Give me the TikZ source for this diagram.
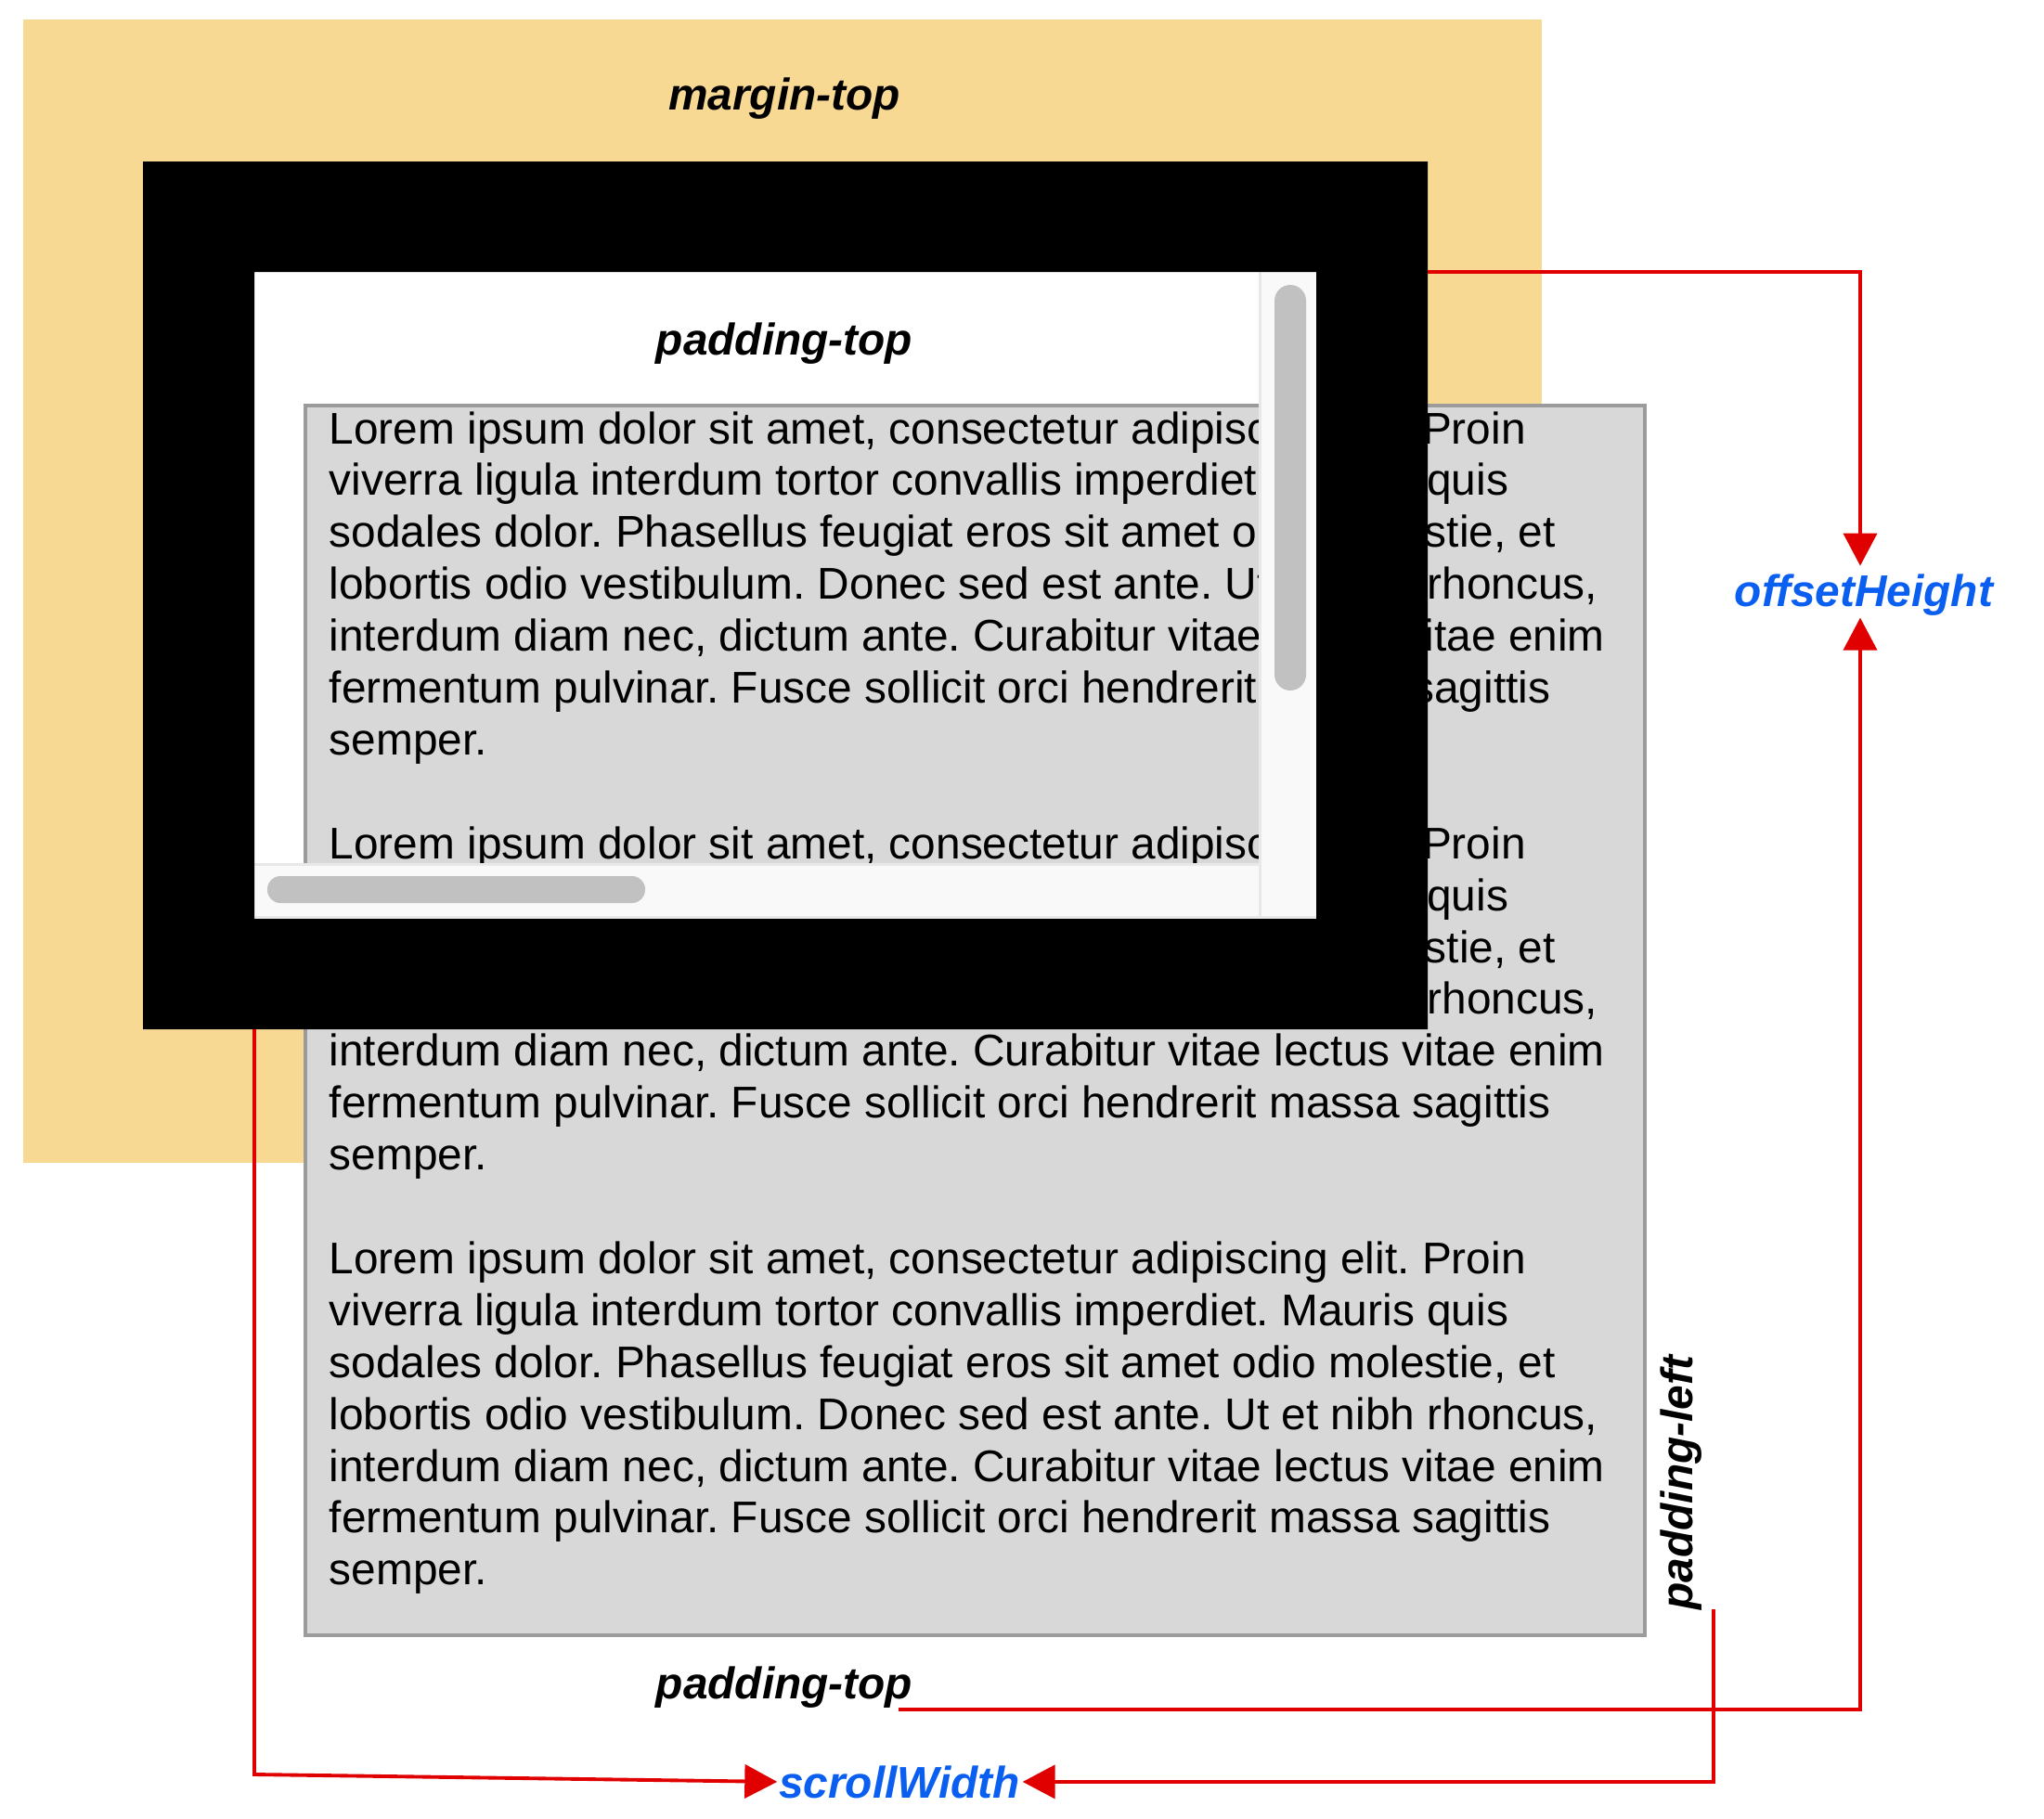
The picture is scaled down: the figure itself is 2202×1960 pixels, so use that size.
\documentclass[tikz,border=0pt]{standalone}
\usepackage{fontspec}
\setmainfont{Liberation Sans}
\usetikzlibrary{arrows.meta,calc}
\definecolor{marg}{RGB}{247,217,148}
\definecolor{boxgray}{RGB}{216,216,216}
\definecolor{boxline}{RGB}{155,155,155}
\definecolor{track}{RGB}{249,249,249}
\definecolor{trackline}{RGB}{232,232,232}
\definecolor{thumbc}{RGB}{193,193,193}
\definecolor{arrred}{RGB}{224,0,0}
\definecolor{lblue}{RGB}{10,95,240}
\frenchspacing
\begin{document}
\begin{tikzpicture}[x=0.01cm,y=-0.01cm,
  body/.style={inner sep=0pt, anchor=base west, font=\fontsize{13.6pt}{15.9pt}\selectfont},
  lbl/.style={inner sep=0pt, font=\fontsize{13.6pt}{15.9pt}\selectfont\bfseries\itshape},
  blbl/.style={lbl, text=lblue},
  conn/.style={draw=arrred, line width=1.1pt, -{Triangle[length=0.35cm,width=0.36cm]}}
]
\useasboundingbox (0,0) rectangle (2202,1960);
% margin area
\fill[marg] (25,21) rectangle (1661,1253);
% viewport
\fill[white] (274,293) rectangle (1418,990);
% content box
\filldraw[fill=boxgray, draw=boxline, line width=0.04cm] (329,437) rectangle (1772,1762);
\foreach \p in {0,1,2}{
  \foreach \t [count=\l from 0] in {
    {Lorem ipsum dolor sit amet, consectetur adipiscing elit. Proin},
    {viverra ligula interdum tortor convallis imperdiet. Mauris quis},
    {sodales dolor. Phasellus feugiat eros sit amet odio molestie, et},
    {lobortis odio vestibulum. Donec sed est ante. Ut et nibh rhoncus,},
    {interdum diam nec, dictum ante. Curabitur vitae lectus vitae enim},
    {fermentum pulvinar. Fusce sollicit orci hendrerit massa sagittis},
    {semper.}}{
    \node[body] (t\p-\l) at (354,{478+(8*\p+\l)*55.9}) {\t};
  }
}
% scrollbars
\fill[track] (1356,293) rectangle (1418,990);
\draw[trackline, line width=0.03cm] (1357.5,293) -- (1357.5,990);
\fill[track] (274,930) rectangle (1356,990);
\draw[trackline, line width=0.03cm] (274,931.5) -- (1356,931.5);
\draw[trackline, line width=0.03cm] (274,988.5) -- (1418,988.5);
\fill[thumbc, rounded corners=0.17cm] (1373,307) rectangle (1407,744);
\fill[thumbc, rounded corners=0.14cm] (288,944) rectangle (695,973);
% border
\fill[black, even odd rule] (154,174) rectangle (1538,1109) (274,293) rectangle (1418,990);
% labels
\node[lbl, anchor=base] (mt) at (845,118) {margin-top};
\node[lbl, anchor=base] (ptt) at (845,382) {padding-top};
\node[lbl, anchor=base] (ptb) at (845,1830) {padding-top};
\node[lbl, anchor=base west, rotate=90] (pl) at (1823,1735) {padding-left};
\node[blbl, anchor=base] (oh) at (2008,653) {offsetHeight};
\node[blbl, anchor=base] (sw) at (969,1937) {scrollWidth};
% connectors
\coordinate (frR) at (1538,293);
\coordinate (frBL) at (274,1109);
\coordinate (ohT) at ($(oh.north)+(-4,-8)$);
\coordinate (ohB) at ($(oh.south)+(-4,2)$);
\coordinate (ptE) at ($(ptb.base east)+(-16,12)$);
\coordinate (plE) at ($(pl.base west)+(23,-1)$);
\coordinate (swC) at (274,1912);
\coordinate (swL) at ($(sw.west)+(-1,0)$);
\coordinate (swR) at ($(sw.east)+(2,0)$);
\draw[conn] (frR) -| (ohT);
\draw[conn] (ptE) -| (ohB);
\draw[conn] (frBL) -- (swC) -- (swL);
\draw[conn] (plE) |- (swR);
\end{tikzpicture}
\end{document}
